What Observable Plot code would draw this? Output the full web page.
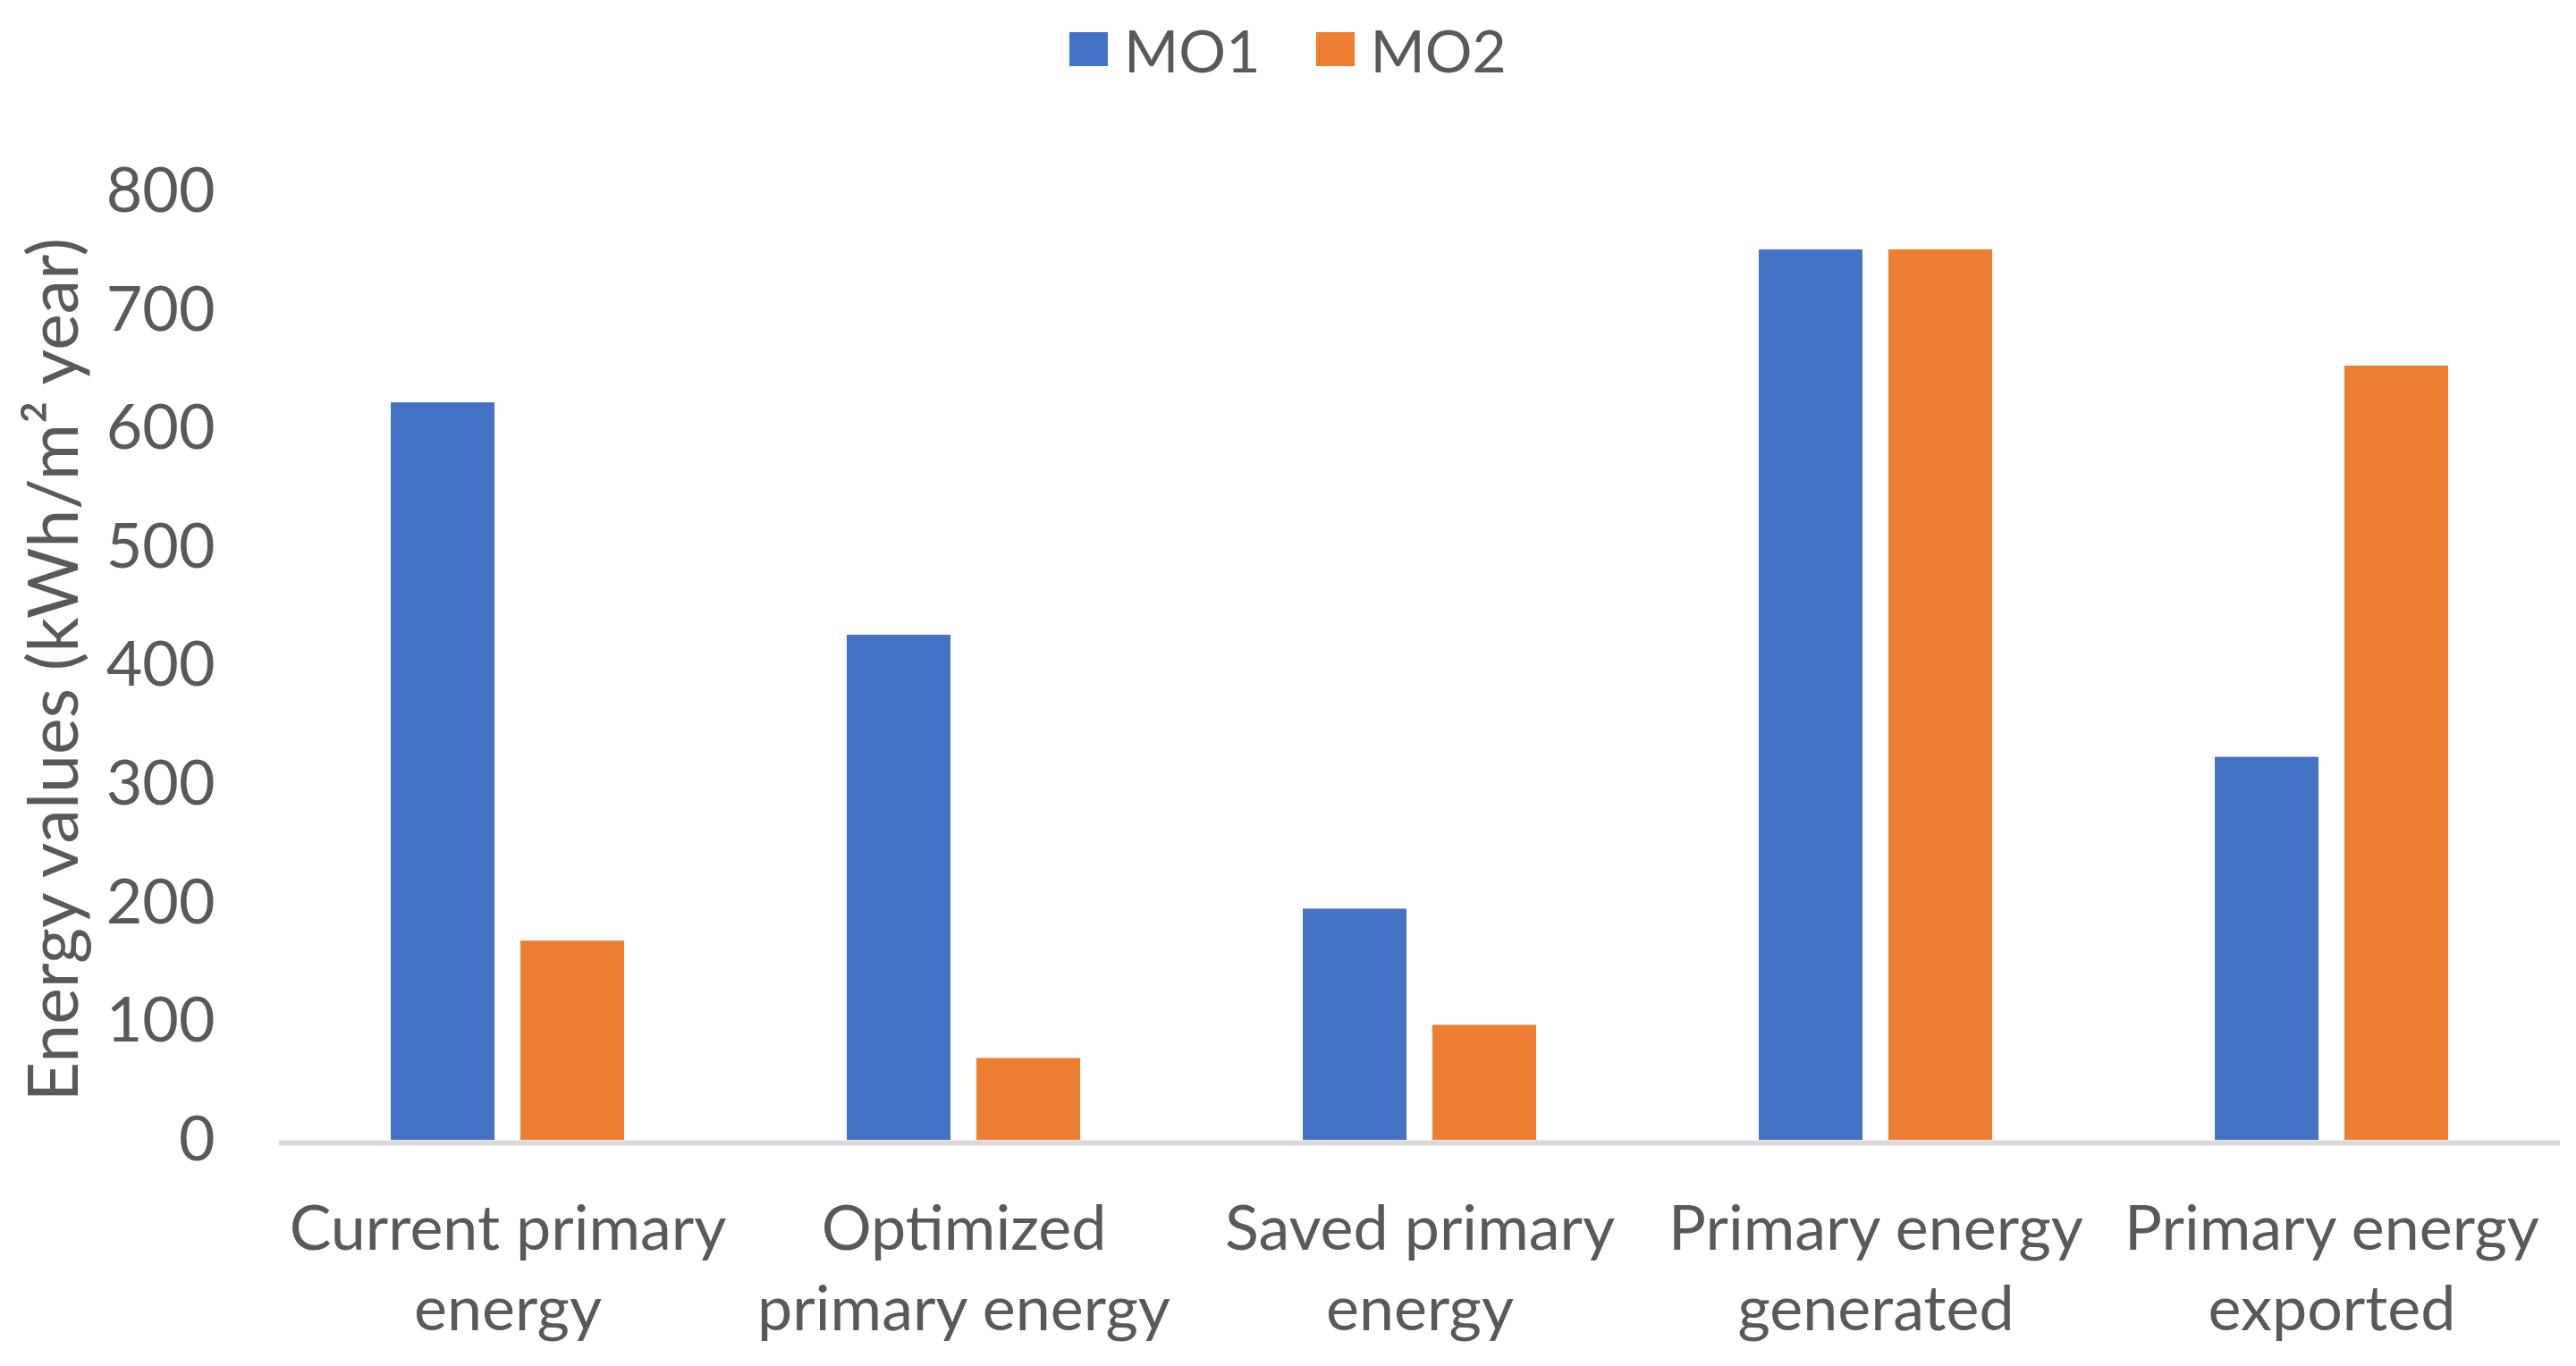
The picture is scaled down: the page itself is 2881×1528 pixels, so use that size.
<!DOCTYPE html>
<html>
<head>
<meta charset="utf-8">
<script src="https://cdn.jsdelivr.net/npm/d3@7"></script>
<script src="https://cdn.jsdelivr.net/npm/@observablehq/plot@0.6"></script>
<style>
  html, body { margin: 0; padding: 0; background: #ffffff; }
  body { width: 2881px; height: 1528px; overflow: hidden; font-family: Lato, "Open Sans", sans-serif; }
  #legend { height: 110px; display: flex; justify-content: center; align-items: center; color: #595959; font-size: 66px; }
  .item { display: flex; align-items: center; margin: 0 31px; }
  .sw { width: 43px; height: 38px; margin-right: 18px; }
</style>
</head>
<body>
<div id="legend"></div>
<div id="chart"></div>
<script>
const categories = [
  "Current primary\nenergy",
  "Optimized\nprimary energy",
  "Saved primary\nenergy",
  "Primary energy\ngenerated",
  "Primary energy\nexported"
];
const seriesNames = ["MO1", "MO2"];
const mo1 = [622, 426, 195, 751, 323];
const mo2 = [168, 69, 97, 751, 653];
const yTicks = [0, 100, 200, 300, 400, 500, 600, 700, 800];
const yTitle = "Energy values (kWh/m\u00B2 year)";
const colors = ["#4472C4", "#ED7D31"];

const data = [];
categories.forEach((c, i) => {
  data.push({category: c, series: seriesNames[0], value: mo1[i]});
  data.push({category: c, series: seriesNames[1], value: mo2[i]});
});

// legend
const legend = document.getElementById("legend");
seriesNames.forEach((s, i) => {
  const it = document.createElement("div");
  it.className = "item";
  const sw = document.createElement("div");
  sw.className = "sw";
  sw.style.background = colors[i];
  const tx = document.createElement("span");
  tx.textContent = s;
  it.appendChild(sw); it.appendChild(tx);
  legend.appendChild(it);
});

const textColor = "#595959";
const fontSize = 70;
const titleSize = 77;
const bandInset = 145;

const chart = Plot.plot({
  width: 2881,
  height: 1418,
  marginTop: 104,
  marginBottom: 253,
  marginLeft: 312,
  marginRight: 18,
  style: { fontFamily: "Lato, 'Open Sans', sans-serif", fontSize: fontSize + "px", color: textColor, background: "#ffffff" },
  x: { domain: categories, paddingInner: 0.488, paddingOuter: 0.244 },
  y: { domain: [0, 800] },
  color: { domain: seriesNames, range: colors },
  marks: [
    Plot.barY(data.filter(d => d.series === seriesNames[0]), {x: "category", y: "value", fill: "series", insetRight: bandInset}),
    Plot.barY(data.filter(d => d.series === seriesNames[1]), {x: "category", y: "value", fill: "series", insetLeft: bandInset}),
    Plot.ruleY([0], {stroke: "#D9D9D9", strokeWidth: 6, dy: 3}),
    Plot.axisY({ticks: yTicks, tickSize: 0, tickPadding: 72, label: null, fill: textColor, fontSize: fontSize}),
    Plot.axisX({tickSize: 0, tickPadding: 58, label: null, fill: textColor, fontSize: fontSize, lineHeight: 1.29}),
    Plot.text([yTitle], {frameAnchor: "left", rotate: -90, dx: -250, dy: 4, fill: textColor, fontSize: titleSize, textAnchor: "middle", lineAnchor: "middle"})
  ]
});
document.getElementById("chart").appendChild(chart);
</script>
</body>
</html>
